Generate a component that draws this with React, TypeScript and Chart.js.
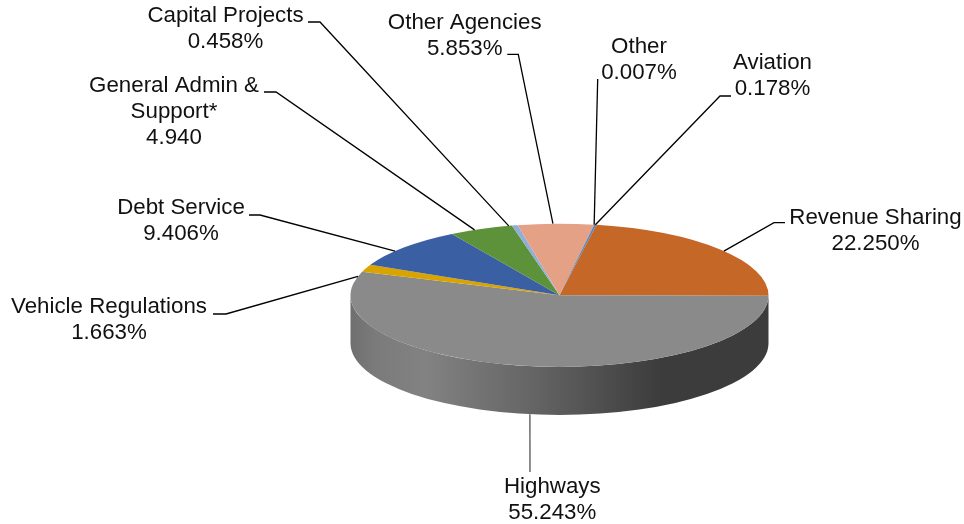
import React, { useEffect, useRef } from "react";
import { Chart, registerables } from "chart.js";

Chart.register(...registerables);

// Clockwise from the top of the pie
const categories = [
  "Revenue Sharing",
  "Highways",
  "Vehicle Regulations",
  "Debt Service",
  "General Admin & Support*",
  "Capital Projects",
  "Other Agencies",
  "Other",
  "Aviation",
];
const shares = [22.25, 55.243, 1.663, 9.406, 4.94, 0.458, 5.853, 0.007, 0.178];
const sliceColors = [
  "#C56727",
  "#8A8A8A",
  "#DAA400",
  "#3A5FA3",
  "#5D923A",
  "#8FAED8",
  "#E5A185",
  "#7F7F7F",
  "#5B86B8",
];
const labelLines = [
  ["Revenue Sharing", "22.250%"],
  ["Highways", "55.243%"],
  ["Vehicle Regulations", "1.663%"],
  ["Debt Service", "9.406%"],
  ["General Admin &", "Support*", "4.940"],
  ["Capital Projects", "0.458%"],
  ["Other Agencies", "5.853%"],
  ["Other", "0.007%"],
  ["Aviation", "0.178%"],
];
// Centre x and first-line centre y of each label
const labelX = [875.5, 552.3, 109, 181, 174, 225.5, 464.7, 639, 772.5];
const labelY = [218, 487, 307, 208, 86, 16, 23, 47, 63];
// Leader polylines: start, elbow (the end is taken from the slice itself)
const leaderStart = [
  [785, 222.7], [530, 472], [213, 314], [249, 215], [264, 92], [308, 22], [507.3, 54.3], [597.7, 79], [731, 96],
];
const leaderElbow = [
  [774, 222.7], [530, 472], [226, 314], [260, 215], [276, 92], [320, 22], [518.3, 54.3], [597.7, 79], [720, 96],
];
const leaderNudgeDeg = [1.6, -1.6, -6.8, -4, -1.9, -1.7, -0.8, 0, 0];

const START_ROTATION = 10.2;
const SQUASH = 71.6 / 209;
const DEPTH = 48;
const FONT = '22.3px "Liberation Sans", Arial, sans-serif';
const LINE_HEIGHT = 26;

const sideGradientStops: [number, string][] = [
  [0, "#6f6f6f"],
  [0.06, "#7b7b7b"],
  [0.18, "#828282"],
  [0.45, "#636363"],
  [0.74, "#3c3c3c"],
  [1, "#3c3c3c"],
];

const pie3d = {
  id: "pie3d",
  beforeDatasetsDraw(chart: any) {
    const ctx = chart.ctx;
    const arcs = chart.getDatasetMeta(0).data;
    const { x: cx, y: cy, outerRadius: r } = arcs[0].getProps(["x", "y", "outerRadius"], true);
    const ry = r * SQUASH;
    ctx.save();
    arcs.forEach((arc: any) => {
      const { startAngle, endAngle } = arc.getProps(["startAngle", "endAngle"], true);
      const tau = Math.PI * 2;
      const a = ((startAngle % tau) + tau) % tau;
      const b = a + (endAngle - startAngle);
      const from = Math.max(a > Math.PI ? a - tau : a, 0);
      const to = Math.min(a > Math.PI ? b - tau : b, Math.PI);
      if (to <= from) return;
      const grad = ctx.createLinearGradient(cx - r, 0, cx + r, 0);
      sideGradientStops.forEach(([p, c]) => grad.addColorStop(p, c));
      ctx.beginPath();
      ctx.ellipse(cx, cy, r, ry, 0, from, to, false);
      ctx.ellipse(cx, cy + DEPTH, r, ry, 0, to, from, true);
      ctx.closePath();
      ctx.fillStyle = grad;
      ctx.fill();
    });
    ctx.restore();
    ctx.save();
    ctx.translate(cx, cy);
    ctx.scale(1, SQUASH);
    ctx.translate(-cx, -cy);
  },
  afterDatasetsDraw(chart: any) {
    const ctx = chart.ctx;
    ctx.restore();
    const arcs = chart.getDatasetMeta(0).data;
    ctx.save();
    arcs.forEach((arc: any, i: number) => {
      const { x: cx, y: cy, outerRadius: r, startAngle, endAngle } = arc.getProps(
        ["x", "y", "outerRadius", "startAngle", "endAngle"],
        true
      );
      const mid = (startAngle + endAngle) / 2 + (leaderNudgeDeg[i] * Math.PI) / 180;
      const ex = cx + r * Math.cos(mid);
      const front = Math.sin(mid) > 0;
      const ey = cy + r * SQUASH * Math.sin(mid) + (front ? DEPTH : 0);
      ctx.beginPath();
      ctx.moveTo(leaderStart[i][0], leaderStart[i][1]);
      ctx.lineTo(leaderElbow[i][0], leaderElbow[i][1]);
      ctx.lineTo(ex, ey);
      ctx.strokeStyle = i === 1 ? "#555555" : "#000000";
      ctx.lineWidth = 1.3;
      ctx.stroke();
    });
    ctx.font = FONT;
    ctx.fillStyle = "#111111";
    ctx.textAlign = "center";
    ctx.textBaseline = "middle";
    labelLines.forEach((lines, i) => {
      lines.forEach((line, j) => {
        ctx.fillText(line, labelX[i], labelY[i] + j * LINE_HEIGHT);
      });
    });
    ctx.restore();
  },
};

export default function App() {
  const ref = useRef<HTMLCanvasElement | null>(null);
  useEffect(() => {
    if (!ref.current) return;
    const chart = new Chart(ref.current, {
      type: "pie",
      data: {
        labels: categories,
        datasets: [{ data: shares, backgroundColor: sliceColors, borderWidth: 0 }],
      },
      options: {
        responsive: false,
        animation: false,
        rotation: START_ROTATION,
        layout: { padding: { left: 350.5, right: 195.5, top: 86.3, bottom: 19.7 } },
        plugins: { legend: { display: false }, tooltip: { enabled: false } },
      },
      plugins: [pie3d],
    } as any);
    return () => chart.destroy();
  }, []);
  return (
    <canvas
      ref={ref}
      width={964}
      height={524}
      style={{ position: "absolute", left: 0, top: 0, width: 964, height: 524, display: "block" }}
    />
  );
}
